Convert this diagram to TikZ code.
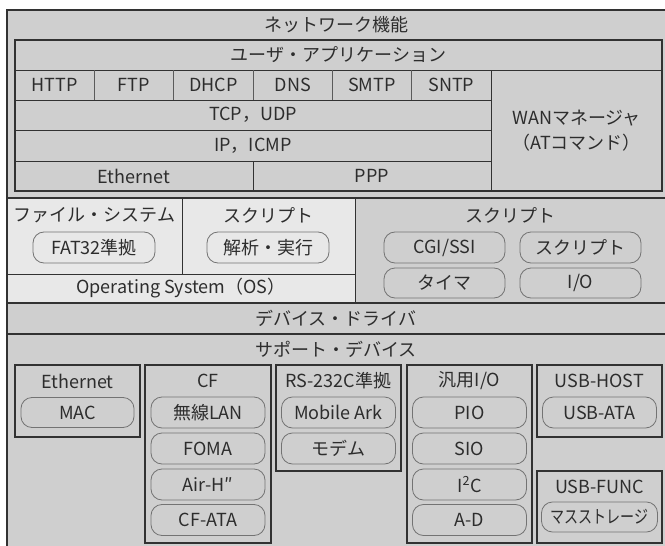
\documentclass[tikz,border=0pt]{standalone}
\usepackage{fontspec}
\setmainfont{Noto Sans CJK JP}
\usepackage{graphicx}
\definecolor{bg}{RGB}{207,207,207}
\definecolor{lt}{RGB}{232,232,232}
\definecolor{ln}{RGB}{50,50,50}
\definecolor{pl}{RGB}{115,115,115}
\definecolor{tx}{RGB}{45,45,45}
\begin{document}
\begin{tikzpicture}[x=1pt,y=-1pt,
  every node/.style={text=tx,font=\fontsize{18}{21}\selectfont,inner sep=0pt},
  pill/.style={draw=pl,line width=0.8,rounded corners=11,minimum height=31,minimum width=114},
  frame/.style={draw=ln,line width=1.2},
  sepline/.style={draw=ln,line width=0.9},
  thinline/.style={draw=ln!80,line width=0.7}]
\useasboundingbox (0,0) rectangle (665,546);
\fill[white] (0,0) rectangle (665,546);
\fill[bg] (7,10) rectangle (665,546);
\fill[lt] (7,198) rectangle (355,303);
% main frame lines
\draw[frame] (665,10) -- (7,10) -- (7,546);
\draw[frame] (7,198) -- (665,198);
\draw[frame] (7,303) -- (665,303);
\draw[frame] (7,334) -- (665,334);
\draw[sepline] (182,198) -- (182,274);
\draw[sepline] (7,274) -- (355,274);
\draw[sepline] (355,198) -- (355,303);
% network box
\draw[frame] (15,40) rectangle (662,191);
\draw[sepline] (15,70) -- (662,70);
\draw[sepline] (15,100) -- (491,100);
\draw[sepline] (15,130) -- (491,130);
\draw[sepline] (15,161) -- (491,161);
\draw[sepline] (491,70) -- (491,191);
\foreach \xx in {94.3,173.7,253,332.3,411.7} \draw[thinline] (\xx,70) -- (\xx,100);
\draw[sepline] (253,161) -- (253,191);
% network texts
\node (net) at (336,25) {ネットワーク機能};
\node (app) at (338.5,55) {ユーザ・アプリケーション};
\node (http) at (54.6,85) {HTTP};
\node (ftp) at (134,85) {FTP};
\node (dhcp) at (213.3,85) {DHCP};
\node (dns) at (292.7,85) {DNS};
\node (smtp) at (372,85) {SMTP};
\node (sntp) at (451.3,85) {SNTP};
\node (tcp) at (253,115) {TCP，UDP};
\node (ip) at (253,145.5) {IP，ICMP};
\node (eth) at (134,176) {Ethernet};
\node (ppp) at (372,176) {PPP};
\node[align=center] (wan) at (576.5,130.5) {WANマネージャ\\[4pt]（ATコマンド）};
% OS area
\node (fs) at (94.5,215) {ファイル・システム};
\node[pill,minimum width=122] (fat) at (94,247.5) {FAT32準拠};
\node (scr1) at (268.5,215) {スクリプト};
\node[pill,minimum width=122] (exec) at (268,247.5) {解析・実行};
\node (os) at (181,288.5) {Operating System（OS）};
\node (scr2) at (510,215) {スクリプト};
\node[pill,minimum width=121] (cgi) at (444.5,247.5) {CGI/SSI};
\node[pill,minimum width=121] (scr3) at (580.5,247.5) {スクリプト};
\node[pill,minimum width=121,minimum height=30] (timer) at (444.5,283) {タイマ};
\node[pill,minimum width=121,minimum height=30] (io) at (580.5,283) {I/O};
\node (drv) at (336,318.5) {デバイス・ドライバ};
\node (sup) at (336,349.5) {サポート・デバイス};
% device boxes
\draw[frame] (15,365) rectangle (140,437);
\draw[frame] (145,365) rectangle (271,543);
\draw[frame] (276,365) rectangle (401,471);
\draw[frame] (407,365) rectangle (532,543);
\draw[frame] (537,365) rectangle (662,437);
\draw[frame] (537,471) rectangle (662,543);
\node (etht) at (77.5,381) {Ethernet};
\node[pill,minimum width=113,minimum height=30] (mac) at (77.5,412.5) {MAC};
\node (cf) at (208,381) {CF};
\node[pill] (wlan) at (208,412.5) {無線LAN};
\node[pill] (foma) at (208,448.5) {FOMA};
\node[pill] (air) at (208,484.5) {Air-H″};
\node[pill] (cfata) at (208,520) {CF-ATA};
\node (rs) at (338.5,381) {RS-232C準拠};
\node[pill] (ark) at (338.5,412.5) {Mobile Ark};
\node[pill] (modem) at (338.5,448.5) {モデム};
\node (gpio) at (469.5,381) {汎用I/O};
\node[pill] (pio) at (469.5,412.5) {PIO};
\node[pill] (sio) at (469.5,448.5) {SIO};
\node[pill] (i2c) at (469.5,484.5) {I\textsuperscript{2}C};
\node[pill] (ad) at (469.5,520) {A-D};
\node (uhost) at (599.5,381) {USB-HOST};
\node[pill] (uata) at (599.5,412.5) {USB-ATA};
\node (ufunc) at (599.5,487) {USB-FUNC};
\node[pill,minimum width=116,minimum height=30] (mass) at (599.5,517) {\scalebox{0.78}[1]{マスストレージ}};
\end{tikzpicture}
\end{document}
